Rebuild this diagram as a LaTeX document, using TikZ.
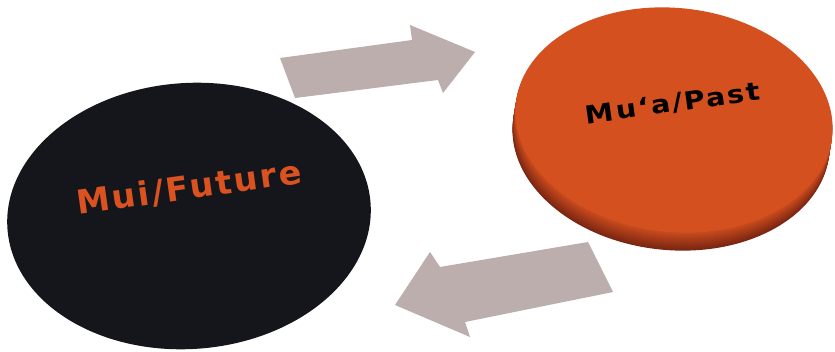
\documentclass[tikz,border=0pt]{standalone}
\usepackage{fontspec}
\newfontfamily\labelfont[LetterSpace=7]{DejaVu Sans}
\begin{document}
\begin{tikzpicture}[x=1pt,y=-1pt]
\definecolor{discblack}{HTML}{15161B}
\definecolor{discorange}{HTML}{D4501F}
\definecolor{discside}{HTML}{7A2612}
\definecolor{arrowgrey}{HTML}{BBAEAD}
\definecolor{textorange}{HTML}{D9521F}
\tikzset{
  blockarrow/.style={fill=arrowgrey},
  biglbl/.style={font=\labelfont\bfseries\fontsize{33}{33}\selectfont, inner sep=0pt},
  smalllbl/.style={font=\labelfont\bfseries\fontsize{25}{25}\selectfont, inner sep=0pt}
}
\useasboundingbox (0,0) rectangle (835,351);
\fill[white] (0,0) rectangle (835,351);
% arrows
\coordinate (a1tail) at (280,58);
\coordinate (a1tip) at (475,52);
\fill[blockarrow] (a1tail) -- (412,40) -- (410,25) -- (a1tip) -- (443,93) -- (438,80) -- (295,98) -- cycle;
\coordinate (a2tail) at (588,242);
\coordinate (a2tip) at (395,305);
\fill[blockarrow] (a2tail) -- (613,292) -- (465,322) -- (470,337) -- (a2tip) -- (430,252) -- (440,267) -- cycle;
% black disc
\fill[discblack, rotate around={4:(189,216)}] (189,216) ellipse (182 and 133);
% orange disc side
\foreach \d in {18,17,...,1} {
  \pgfmathsetmacro\m{85*(18-\d)/17}
  \fill[discorange!\m!discside, rotate around={-6:({674-\d/6},{120+\d})}] ({674-\d/6},{120+\d}) ellipse (159 and 112);
}
% orange disc top
\fill[discorange, rotate around={-6:(674,120)}] (674,120) ellipse (159 and 112);
% labels
\node[biglbl, text=textorange, rotate=8, xscale=1.02] (future) at (189,188) {Mui/Future};
\node[smalllbl, text=black, rotate=8, xscale=1.15] (past) at (673,104) {Mu‘a/Past};
\end{tikzpicture}
\end{document}
